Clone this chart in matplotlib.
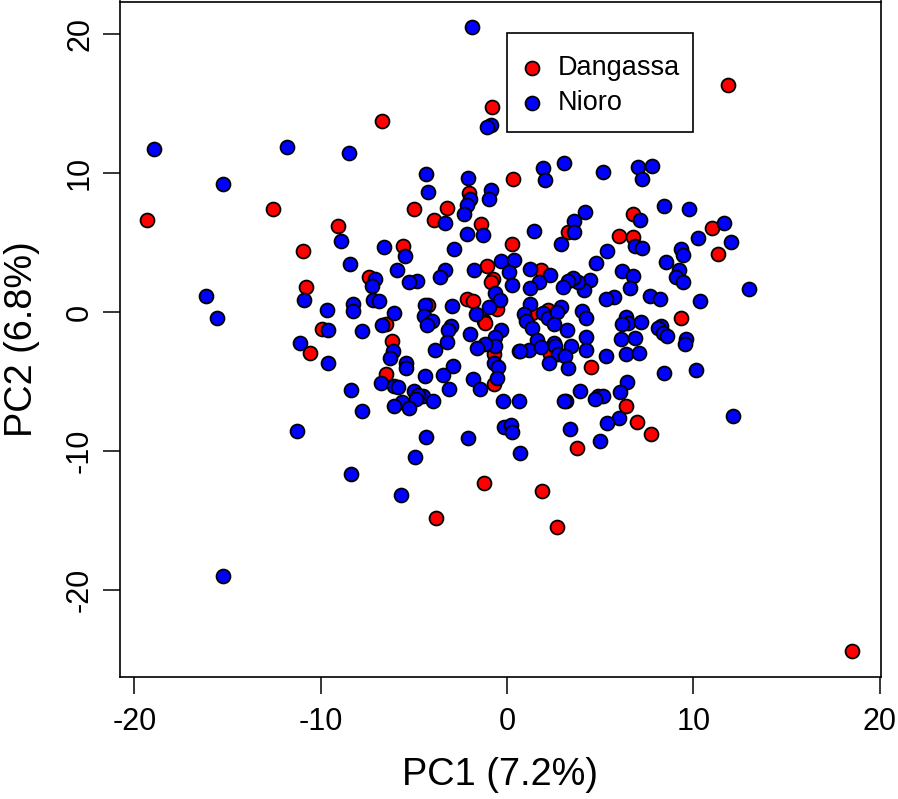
import matplotlib
matplotlib.use('Agg')
import matplotlib.pyplot as plt
from matplotlib.patches import Rectangle

plt.rcParams['font.family'] = ['Liberation Sans', 'DejaVu Sans']
plt.rcParams['axes.unicode_minus'] = False

# PC scores, red group
dangassa_pc1 = [0.32, -2.06, -4.97, -3.24, -3.92, -1.41, -9.07, 0.27, -10.97, -5.56,
                -1.09, -0.73, -0.88, -7.41, -10.80, -2.13, -1.81, -0.55, -4.22, -1.23,
                6.76, 11.0, 6.01, 6.76, 3.26, 11.31, 1.82, 2.22, 1.32, 9.34,
                -9.93, -6.51, -1.18, -6.16, -10.59, -0.71, -6.51, -0.68,
                4.49, 6.39, 6.98, 7.71, 3.76, 2.31,
                -0.8, -6.71, 11.86, -19.32, -12.56, -1.23, 1.88, -3.81, 2.68, 18.52]
dangassa_pc2 = [9.57, 8.61, 7.43, 7.50, 6.62, 6.33, 6.21, 4.94, 4.44, 4.75,
                3.31, 2.37, 2.21, 2.52, 1.85, 0.98, 0.84, 0.22, 0.53, -0.62,
                7.03, 6.04, 5.47, 5.42, 5.78, 4.19, 3.04, 0.14, -0.05, -0.45,
                -1.17, -0.86, -0.74, -2.06, -2.90, -2.97, -4.41, -5.18,
                -3.96, -6.76, -7.91, -8.78, -9.73, -2.97,
                14.75, 13.74, 16.33, 6.62, 7.41, -12.3, -12.88, -14.82, -15.47, -24.39]

# blue group
nioro_pc1 = [-4.36, -2.09, -4.26, -0.86, -0.98, -1.97, -2.13, -2.33, -3.34, -2.15,
             -1.29, -8.93, -6.60, -5.49, -2.86, -8.41, -5.90, -3.31, -3.61, -1.75,
             -0.31, 0.39, 0.09, 0.27, -4.85, -5.28, -7.10, -7.26, -0.63, -0.38,
             -0.95, -10.91, -9.64, -8.25, -8.27, -7.21, -6.87, -6.08, -4.40, -4.46,
             -2.93, -1.66,
             1.93, 3.06, 2.02, 5.17, 7.05, 7.80, 7.23, 1.45, 4.19, 3.60,
             3.60, 2.90, 8.41, 9.79, 7.12, 11.67, 10.23, 12.02, 5.39, 4.76,
             6.85, 7.26, 9.34, 9.45, 8.55, 9.23, 9.07, 9.43, 6.16, 6.78,
             6.62, 7.69, 8.20, 10.36, 5.76, 5.31, 4.47, 4.13, 3.79, 3.56,
             3.29, 3.02, 2.29, 1.73, 1.23, 1.22, 1.25, 2.91, 4.04, 4.24,
             0.93, 1.93, 2.18, 2.67, 2.54, 6.39,
             -4.04, -4.31, -3.02, -3.18, -1.99, -0.34, -0.63, -0.64, -1.20, -1.61,
             -3.22, -3.86, -9.62, -7.77, -6.73, -11.09, -9.59, -6.14, -6.26, -5.40,
             -5.42, -2.91, -0.71, -0.50, 0.66, -4.38, -3.45, -1.81, -1.47, -0.55,
             -6.78, -6.07, -5.85, -8.36, -3.11, -5.01, -4.49, -4.78, -4.88, -3.99,
             -5.64, -6.07, -5.28, -7.80, -0.20, 0.63, -0.16, 0.20, 0.27, -11.27,
             -4.35, -2.09, -4.95, 0.70, -8.37,
             1.02, 1.34, 3.22, 6.51, 6.16, 7.18, 4.26, 6.10, 6.87, 8.28,
             8.11, 8.36, 8.61, 9.59, 9.57, 1.63, 1.20, 0.70, 1.81, 2.54,
             2.58, 3.44, 4.26, 2.75, 3.10, 2.27, 3.27, 5.31, 6.40, 7.10,
             8.41, 10.16, 6.46, 6.07, 3.92, 4.90, 5.14, 4.71, 3.17, 3.04,
             6.03, 5.39, 3.38, 4.99, 12.15,
             -1.88, -0.86, -1.07, -18.95, -15.24, -11.81, -8.48, -16.16, -15.57,
             -5.69, -15.24, 12.99]
nioro_pc2 = [9.93, 9.64, 8.66, 8.82, 8.13, 8.13, 7.70, 7.05, 6.42, 5.61,
             5.52, 5.13, 4.72, 4.08, 4.53, 3.50, 3.07, 3.04, 2.54, 3.07,
             3.67, 3.74, 2.90, 1.94, 2.28, 2.18, 2.37, 1.92, 1.39, 0.86,
             0.38, 0.91, 0.17, 0.58, 0.07, 0.91, 0.79, -0.07, 0.55, -0.29,
             0.43, -0.12,
             10.38, 10.70, 9.52, 10.07, 10.43, 10.53, 9.55, 5.87, 7.22, 6.55,
             5.80, 4.91, 7.63, 7.43, 6.60, 6.42, 5.32, 5.06, 4.37, 3.55,
             4.75, 4.60, 4.55, 4.10, 3.58, 3.02, 2.54, 2.18, 2.95, 2.59,
             1.71, 1.17, 0.98, 0.84, 1.06, 0.94, 2.30, 1.58, 2.16, 2.49,
             2.25, 1.82, 2.66, 2.21, 3.14, 1.73, 0.60, 0.38, 0.09, -0.45,
             -0.14, -0.02, -0.41, 0.02, -0.86, -0.34,
             -0.62, -0.94, -0.98, -1.25, -1.58, -1.29, -1.77, -2.42, -2.30, -2.54,
             -2.16, -2.71, -1.29, -1.34, -0.94, -2.18, -3.65, -2.78, -3.29, -3.65,
             -3.98, -3.86, -3.62, -3.93, -2.78, -4.58, -4.55, -4.82, -5.52, -4.75,
             -5.09, -5.30, -5.37, -5.59, -5.54, -5.68, -5.99, -5.95, -6.24, -6.40,
             -6.47, -6.76, -6.91, -7.12, -6.35, -6.35, -8.27, -8.08, -8.61, -8.56,
             -8.99, -9.02, -10.38, -10.12, -11.6,
             -0.62, -1.10, -1.29, -0.81, -0.88, -0.72, -1.80, -1.96, -1.82, -1.01,
             -1.10, -1.46, -1.73, -1.96, -2.30, -2.01, -2.73, -2.81, -2.50, -2.21,
             -2.45, -2.45, -2.73, -2.97, -3.12, -3.62, -3.98, -3.14, -3.02, -2.93,
             -4.37, -4.15, -5.04, -5.76, -5.63, -5.99, -5.99, -6.21, -6.35, -6.40,
             -7.60, -7.99, -8.42, -9.28, -7.43,
             20.5, 13.45, 13.31, 11.73, 9.21, 11.87, 11.44, 1.15, -0.43,
             -13.17, -19.0, 1.65]

ticks = [-20, -10, 0, 10, 20]

W, H = 898, 799
AX_W, AX_H = 760.5, 675
fig = plt.figure(figsize=(W / 100, H / 100), dpi=100)
ax = fig.add_axes([120 / W, 1 - 676.5 / H, AX_W / W, AX_H / H])

ax.scatter(dangassa_pc1, dangassa_pc2, s=100, c='#ff0000', edgecolors='black',
           linewidths=1.3, label='Dangassa', zorder=3, clip_on=False)
ax.scatter(nioro_pc1, nioro_pc2, s=100, c='#0000ff', edgecolors='black',
           linewidths=1.3, label='Nioro', zorder=4, clip_on=False)

ax.set_xlim(-20.77, 20.05)
ax.set_ylim(-26.2, 22.35)
ax.set_xticks(ticks)
ax.set_yticks(ticks)
ax.tick_params(axis='both', length=12, width=1.1, labelsize=22)
ax.tick_params(axis='x', pad=10)
ax.tick_params(axis='y', pad=6)
plt.setp(ax.get_yticklabels(), rotation=90, va='center')
for s in ax.spines.values():
    s.set_linewidth(1.2)

ax.set_xlabel('PC1 (7.2%)', fontsize=27.3, va='center')
ax.xaxis.set_label_coords(0.5, (676.5 - 775) / AX_H)
ax.set_ylabel('PC2 (6.8%)', fontsize=27.3, va='center')
ax.yaxis.set_label_coords((22 - 120) / AX_W, 0.5)

# legend box drawn by hand so it can be narrower than matplotlib's padding allows
ax.add_patch(Rectangle((387 / AX_W, 1 - 130.5 / AX_H), 186 / AX_W, 99 / AX_H,
                       transform=ax.transAxes, facecolor='white', edgecolor='black',
                       linewidth=1.2, zorder=5))
leg = ax.legend(loc='upper left', bbox_to_anchor=(387 / AX_W, 1 - 31.5 / AX_H),
                borderaxespad=0, fontsize=19.5, frameon=False, labelspacing=0.35,
                handlelength=0.25, handletextpad=0.84, borderpad=0.8)
leg.set_zorder(6)

fig.savefig('out.png', dpi=100)
